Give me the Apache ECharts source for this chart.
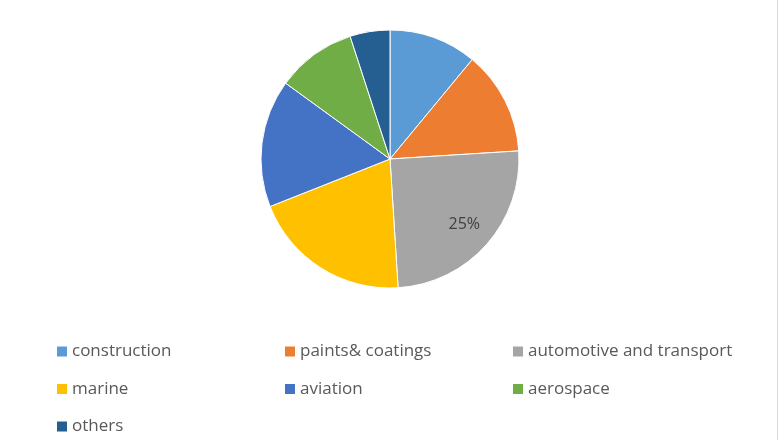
<!DOCTYPE html>
<html>
<head>
<meta charset="utf-8">
<script src="https://cdn.jsdelivr.net/npm/echarts@6/dist/echarts.min.js"></script>
<style>
html,body{margin:0;padding:0;background:#fff;}
#chart{width:780px;height:440px;}
</style>
</head>
<body>
<div id="chart"></div>
<script>
const categories = ['construction', 'paints& coatings', 'automotive and transport', 'marine', 'aviation', 'aerospace', 'others'];
const values = [11, 13, 25, 20, 16, 10, 5];
const colors = ['#5B9BD5', '#ED7D31', '#A5A5A5', '#FFC000', '#4472C4', '#70AD47', '#255E91'];
const labelledCategory = 'automotive and transport';

const chart = echarts.init(document.getElementById('chart'));
const total = values.reduce((a, b) => a + b, 0);

const mainData = categories.map((c, i) => ({ name: c, value: values[i], itemStyle: { color: colors[i] } }));
const labelData = categories.map((c, i) => ({
  name: c, value: values[i],
  itemStyle: { color: 'transparent', borderWidth: 0 },
  label: { show: c === labelledCategory }
}));

const legendCommon = {
  orient: 'vertical',
  icon: 'rect',
  itemWidth: 10,
  itemHeight: 10,
  itemGap: 20.5,
  itemTextGap: 6,
  padding: 0,
  height: 120,
  itemStyle: { borderWidth: 0 },
  textStyle: { color: '#595959', fontSize: 17, fontFamily: 'Open Sans', lineHeight: 16 },
  selectedMode: false,
  top: 343
};

chart.setOption({
  backgroundColor: '#ffffff',
  animation: false,
  color: colors,
  legend: [
    Object.assign({}, legendCommon, { left: 57, data: [categories[0], categories[3], categories[6]] }),
    Object.assign({}, legendCommon, { left: 285, data: [categories[1], categories[4]] }),
    Object.assign({}, legendCommon, { left: 513, data: [categories[2], categories[5]] })
  ],
  series: [
    {
      type: 'pie',
      center: [390, 159],
      radius: 129,
      startAngle: 90,
      clockwise: true,
      label: { show: false },
      labelLine: { show: false },
      itemStyle: { borderColor: '#ffffff', borderWidth: 1 },
      emphasis: { disabled: true },
      data: mainData
    },
    {
      type: 'pie',
      center: [390, 159],
      radius: [64, 128],
      startAngle: 90,
      clockwise: true,
      silent: true,
      label: {
        show: false,
        position: 'inside',
        color: '#404040',
        fontSize: 16,
        fontFamily: 'Open Sans',
        formatter: p => Math.round(p.value / total * 100) + '%'
      },
      labelLine: { show: false },
      emphasis: { disabled: true },
      data: labelData
    }
  ],
  graphic: [
    { type: 'line', shape: { x1: 777.5, y1: 0, x2: 777.5, y2: 440 }, style: { stroke: '#d9d9d9', lineWidth: 1 } }
  ]
});
</script>
</body>
</html>
